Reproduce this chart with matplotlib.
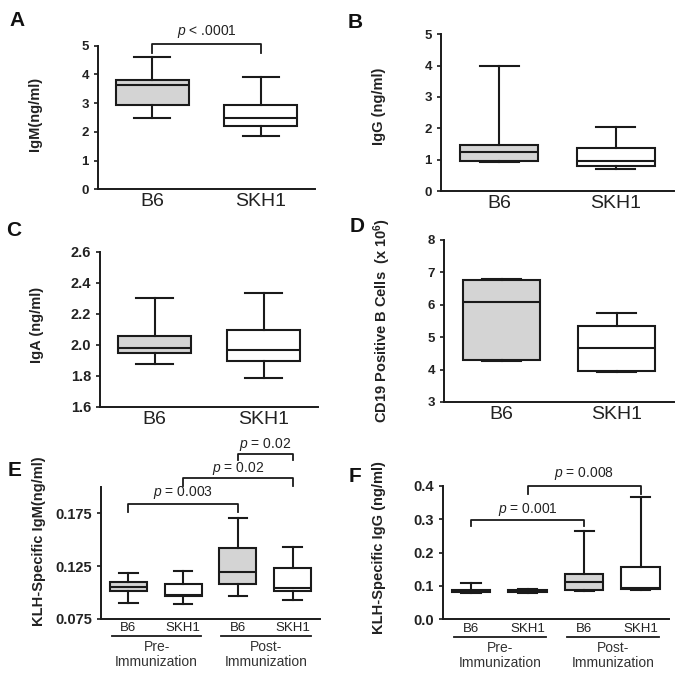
import numpy as np
import matplotlib
matplotlib.use("Agg")
import matplotlib.pyplot as plt

plt.rcParams['font.family'] = ['Liberation Sans', 'DejaVu Sans']
plt.rcParams['mathtext.fontset'] = 'custom'
plt.rcParams['mathtext.rm'] = 'Liberation Sans'
plt.rcParams['mathtext.it'] = 'Liberation Sans:italic'
plt.rcParams['mathtext.bf'] = 'Liberation Sans:bold'

# box stats per group: [whisker low, Q1, median, Q3, whisker high]
strains = ["B6", "SKH1"]
igm_b6 = [2.50, 2.95, 3.62, 3.81, 4.59]
igm_skh1 = [1.85, 2.21, 2.48, 2.94, 3.90]
igg_b6 = [0.91, 0.97, 1.25, 1.46, 4.00]
igg_skh1 = [0.71, 0.80, 0.96, 1.38, 2.04]
iga_b6 = [1.880, 1.947, 1.977, 2.055, 2.305]
iga_skh1 = [1.786, 1.896, 1.964, 2.098, 2.331]
cd19_b6 = [4.26, 4.29, 6.08, 6.76, 6.80]
cd19_skh1 = [3.94, 3.97, 4.66, 5.35, 5.76]

klh_labels = ["B6", "SKH1", "B6", "SKH1"]
klh_igm = [[0.0900, 0.1013, 0.1055, 0.1100, 0.1180],
           [0.0886, 0.0961, 0.0978, 0.1078, 0.1200],
           [0.0964, 0.1078, 0.1190, 0.1418, 0.1705],
           [0.0925, 0.1013, 0.1039, 0.1227, 0.1430]]
klh_igg = [[0.080, 0.082, 0.085, 0.088, 0.110],
           [0.080, 0.081, 0.085, 0.089, 0.090],
           [0.085, 0.088, 0.113, 0.135, 0.263],
           [0.087, 0.090, 0.093, 0.156, 0.366]]

# significance brackets: (from group, to group, bar height, leg end, text height, label)
sig_a = [(1, 2, 5.06, 4.76, 5.48, "$p$ < .0001")]
sig_e = [(1, 3, 0.184, 0.1766, 0.1944, "$p$ = 0.003"),
         (2, 4, 0.209, 0.2009, 0.218, "$p$ = 0.02"),
         (3, 4, 0.2316, 0.226, 0.2407, "$p$ = 0.02")]
sig_f = [(1, 3, 0.298, 0.278, 0.328, "$p$ = 0.001"),
         (2, 4, 0.400, 0.376, 0.436, "$p$ = 0.008")]

LC = "#1a1a1a"
GRAY = "#d4d4d4"
W, H = 684, 675
fig = plt.figure(figsize=(W / 100, H / 100), dpi=100)


def add_ax(l, t, r, b):
    return fig.add_axes([l / W, 1 - b / H, (r - l) / W, (b - t) / H])


def boxes(ax, stats, colors, width):
    st = [dict(whislo=s[0], q1=s[1], med=s[2], q3=s[3], whishi=s[4], fliers=[]) for s in stats]
    lp = dict(color=LC, linewidth=1.5)
    bp = ax.bxp(st, positions=np.arange(1, len(st) + 1), widths=width, capwidths=width * 0.5,
                patch_artist=True, showfliers=False,
                boxprops=dict(edgecolor=LC, linewidth=1.5),
                medianprops=lp, whiskerprops=lp, capprops=lp)
    for patch, c in zip(bp['boxes'], colors):
        patch.set_facecolor(c)


def style(ax, ticksize):
    for s in ['top', 'right']:
        ax.spines[s].set_visible(False)
    for s in ['left', 'bottom']:
        ax.spines[s].set_linewidth(1.4)
        ax.spines[s].set_color(LC)
    ax.tick_params(axis='y', direction='out', length=3, width=1.2, color=LC, labelsize=ticksize, pad=3.5)
    ax.tick_params(axis='x', length=0)
    for t in ax.get_yticklabels():
        t.set_fontweight('bold')
        t.set_color("#222222")


def brackets(ax, sigs, tsize=10):
    for x0, x1, yb, yl, yt, lab in sigs:
        ax.plot([x0, x0, x1, x1], [yl, yb, yb, yl], color=LC, lw=1.3, clip_on=False)
        ax.text((x0 + x1) / 2, yt, lab, ha='center', va='center', fontsize=tsize, color="#222222")


def two_group(ax, b6, skh1, ylim, yticks, ticksize, fmt=None):
    boxes(ax, [b6, skh1], [GRAY, "white"], 0.67)
    ax.set_xlim(0.5, 2.5)
    ax.set_ylim(*ylim)
    ax.set_yticks(yticks)
    if fmt:
        ax.set_yticklabels([fmt % v for v in yticks])
    ax.set_xticks([1, 2])
    ax.set_xticklabels(strains, fontsize=14, color="#222222")
    ax.tick_params(axis='x', pad=3)
    style(ax, ticksize)


def four_group(ax, stats, ylim, yticks, fmt):
    boxes(ax, stats, [GRAY, "white", GRAY, "white"], 0.68)
    ax.set_xlim(0.5, 4.5)
    ax.set_ylim(*ylim)
    ax.set_yticks(yticks)
    ax.set_yticklabels([fmt % v for v in yticks])
    ax.set_xticks([1, 2, 3, 4])
    ax.set_xticklabels(klh_labels, fontsize=9.5, color="#222222")
    ax.tick_params(axis='x', pad=2.5)
    style(ax, 10.5)
    tr = ax.get_xaxis_transform()
    for xa, xb, name in [(0.7, 2.33, "Pre-\nImmunization"), (2.7, 4.33, "Post-\nImmunization")]:
        ax.plot([xa, xb], [-0.135, -0.135], color=LC, lw=1.3, transform=tr, clip_on=False)
        ax.text((xa + xb) / 2, -0.165, name, transform=tr, ha='center', va='top',
                fontsize=10, color="#333333", linespacing=1.05)


axA = add_ax(98, 45.7, 315, 189.3)
two_group(axA, igm_b6, igm_skh1, (0, 5), [0, 1, 2, 3, 4, 5], 9.5)
brackets(axA, sig_a)

axB = add_ax(441, 34.3, 674, 191)
two_group(axB, igg_b6, igg_skh1, (0, 5), [0, 1, 2, 3, 4, 5], 9.5)

axC = add_ax(100, 251.7, 318, 407)
two_group(axC, iga_b6, iga_skh1, (1.6, 2.6), [1.6, 1.8, 2.0, 2.2, 2.4, 2.6], 10.5, "%.1f")

axD = add_ax(444, 240, 674, 402)
two_group(axD, cd19_b6, cd19_skh1, (3, 8), [3, 4, 5, 6, 7, 8], 9.5)

axE = add_ax(101, 487, 320, 618.7)
four_group(axE, klh_igm, (0.075, 0.2), [0.075, 0.125, 0.175], "%.3f")
brackets(axE, sig_e)

axF = add_ax(442.7, 485.7, 669, 619.3)
four_group(axF, klh_igg, (0, 0.4), [0.0, 0.1, 0.2, 0.3, 0.4], "%.1f")
brackets(axF, sig_f)

# y labels and panel letters
ylabs = [(35, 114, "IgM(ng/ml)"), (379, 106, "IgG (ng/ml)"), (37, 325, "IgA (ng/ml)"),
         (382, 320, r"CD19 Positive B Cells  (x 10$^{\mathbf{6}}$)"),
         (39, 541, "KLH-Specific IgM(ng/ml)"), (379, 548, "KLH-Specific IgG (ng/ml)")]
for x, y, t in ylabs:
    fig.text(x / W, 1 - y / H, t, rotation=90, ha='center', va='center',
             fontsize=10.5, fontweight='bold', color="#222222")

letters = [(17, 20, "A"), (355, 23, "B"), (14, 230, "C"), (357, 226, "D"), (15, 470, "E"), (355, 476, "F")]
for x, y, t in letters:
    fig.text(x / W, 1 - y / H, t, ha='center', va='center', fontsize=15, fontweight='bold', color="#111111")

fig.savefig("out.png", dpi=100)
